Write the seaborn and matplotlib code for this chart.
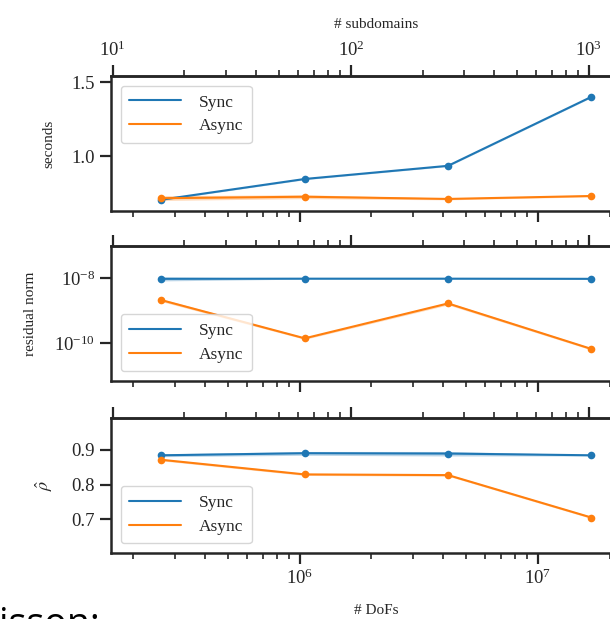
import pandas as pd
import seaborn as sns
import matplotlib.pyplot as plt
from matplotlib.lines import Line2D
from matplotlib.ticker import NullLocator

# problem sizes: DoFs on the bottom axis, subdomains on the top axis
dofs = [262144, 1048576, 4194304, 16777216]
subdomains = [16, 64, 256, 1024]
runs = ["Sync", "Async"]

# wall time per iteration (seconds)
sync_time = [0.705, 0.845, 0.934, 1.40]
async_time = [0.715, 0.725, 0.71, 0.73]
sync_time_lo = [0.700, 0.840, 0.929, 1.395]
sync_time_hi = [0.710, 0.850, 0.939, 1.405]
async_time_lo = [0.700, 0.712, 0.704, 0.724]
async_time_hi = [0.732, 0.738, 0.716, 0.736]

# final residual norm
sync_res = [9.5e-9, 9.6e-9, 9.6e-9, 9.5e-9]
async_res = [2.1e-9, 1.4e-10, 1.66e-9, 6.6e-11]
sync_res_lo = [8.2e-9, 9.3e-9, 9.3e-9, 9.2e-9]
sync_res_hi = [1.1e-8, 9.9e-9, 9.9e-9, 9.8e-9]
async_res_lo = [1.9e-9, 1.3e-10, 1.5e-9, 6.1e-11]
async_res_hi = [2.3e-9, 1.5e-10, 1.8e-9, 7.1e-11]

# convergence rate estimate
sync_rho = [0.884, 0.890, 0.889, 0.884]
async_rho = [0.871, 0.829, 0.827, 0.705]
sync_rho_lo = [0.880, 0.884, 0.882, 0.882]
sync_rho_hi = [0.888, 0.895, 0.895, 0.886]
async_rho_lo = [0.868, 0.826, 0.824, 0.702]
async_rho_hi = [0.874, 0.832, 0.830, 0.708]

colors = {"Sync": "#1f77b4", "Async": "#ff7f0e"}

sns.set_theme(style="ticks")
plt.rcParams["font.family"] = ["Liberation Serif", "DejaVu Serif"]
plt.rcParams["mathtext.fontset"] = "stix"
plt.rcParams["axes.linewidth"] = 1.8

dofs_per_sub = dofs[0] / subdomains[0]

panels = [
    ("seconds", sync_time, async_time, (sync_time_lo, sync_time_hi),
     (async_time_lo, async_time_hi), "linear", (0.628, 1.54), [1.0, 1.5], "upper left"),
    ("residual norm", sync_res, async_res, (sync_res_lo, sync_res_hi),
     (async_res_lo, async_res_hi), "log", (6.8e-12, 9.7e-8), [1e-10, 1e-8], "lower left"),
    (r"$\hat{\rho}$", sync_rho, async_rho, (sync_rho_lo, sync_rho_hi),
     (async_rho_lo, async_rho_hi), "linear", (0.603, 0.991), [0.7, 0.8, 0.9], "lower left"),
]
bottoms = [0.659, 0.3845, 0.1066]

fig = plt.figure(figsize=(6.1, 6.19), dpi=100)

for i, (ylab, s_vals, a_vals, s_band, a_band, yscale, ylim, yticks, loc) in enumerate(panels):
    ax = fig.add_axes([0.182, bottoms[i], 0.870, 0.218])
    ax.set_xscale("log")
    ax.set_yscale(yscale)

    df = pd.DataFrame({
        "dofs": dofs * 2,
        "value": s_vals + a_vals,
        "run": ["Sync"] * len(dofs) + ["Async"] * len(dofs),
    })
    for run, band in (("Sync", s_band), ("Async", a_band)):
        ax.fill_between(dofs, band[0], band[1], color=colors[run], alpha=0.3, lw=0)
    sns.lineplot(data=df, x="dofs", y="value", hue="run", hue_order=runs,
                 palette=colors, marker="o", markersize=5.5, markeredgewidth=0,
                 linewidth=1.5, legend=False, ax=ax)

    ax.set_xlim(1.61e5, 2.73e7)
    ax.set_ylim(*ylim)
    ax.set_yticks(yticks)
    if yscale == "log":
        ax.yaxis.set_minor_locator(NullLocator())
    ax.set_ylabel(ylab, fontsize=13 if i == 2 else 11, labelpad=12)
    ax.tick_params(which="major", length=8, width=1.6, labelsize=13.5, direction="out")
    ax.tick_params(which="minor", length=4.5, width=1.2, direction="out")

    sec = ax.secondary_xaxis("top", functions=(lambda d: d / dofs_per_sub,
                                               lambda s: s * dofs_per_sub))
    sec.tick_params(which="major", length=8, width=1.6, labelsize=13.5, direction="out")
    sec.tick_params(which="minor", length=4.5, width=1.2, direction="out")
    if i == 0:
        sec.set_xlabel("# subdomains", fontsize=11, labelpad=9)
    else:
        sec.tick_params(labeltop=False)

    if i == 2:
        ax.set_xlabel("# DoFs", fontsize=11, labelpad=11)
    else:
        ax.tick_params(labelbottom=False)
        ax.set_xlabel("")

    handles = [Line2D([], [], color=colors[r], lw=1.5) for r in runs]
    ax.legend(handles, runs, loc=loc, fontsize=12.5, handlelength=3,
              handletextpad=1.0, labelspacing=0.45, borderpad=0.5,
              borderaxespad=0.55, frameon=True)

# slide text peeking in at the bottom edge
fig.text(-0.075, -0.026, "Poisson:", fontsize=27, family="Open Sans",
         ha="left", va="baseline", color="black")

fig.savefig("out.png", dpi=100)
